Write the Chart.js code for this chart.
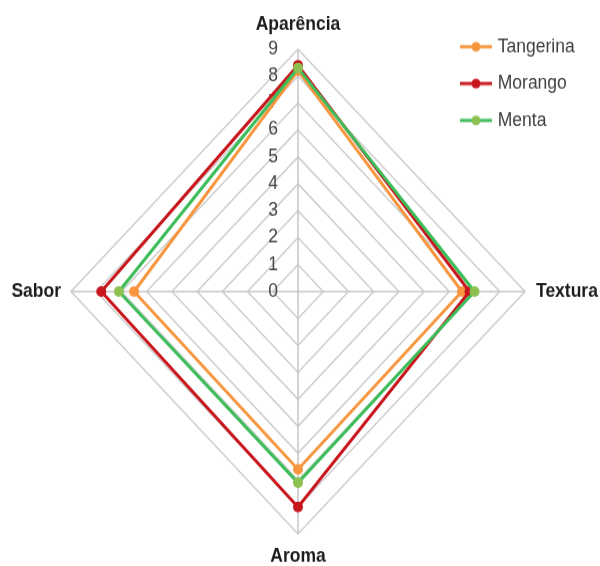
<!DOCTYPE html>
<html>
<head>
<meta charset="utf-8">
<script src="https://cdn.jsdelivr.net/npm/chart.js@4.4.1/dist/chart.umd.min.js"></script>
<style>
  html, body { margin: 0; padding: 0; background: #ffffff; }
  #radar { display: block; }
</style>
</head>
<body>
<canvas id="radar" width="600" height="530" style="width:600px;height:566px"></canvas>
<script>
// Sensory scores per attribute (0–9 scale)
const categories = ['Aparência', 'Textura', 'Aroma', 'Sabor'];
const seriesNames = ['Tangerina', 'Morango', 'Menta'];
const tangerina = [8.2, 6.5, 6.6, 6.5];
const morango   = [8.4, 6.8, 8.0, 7.8];
const menta     = [8.3, 7.0, 7.1, 7.1];
const tickValues = [0, 1, 2, 3, 4, 5, 6, 7, 8, 9];

const FONT = '"Liberation Sans", Arial, sans-serif';

// Legend swatch: short line with a dot in the middle
function lineIcon(lineColor, dotColor) {
  const c = document.createElement('canvas');
  c.width = 32; c.height = 12;
  const g = c.getContext('2d');
  g.strokeStyle = lineColor;
  g.lineWidth = 3;
  g.beginPath(); g.moveTo(0, 6); g.lineTo(32, 6); g.stroke();
  g.fillStyle = dotColor;
  g.beginPath(); g.arc(16, 6, 4.5, 0, Math.PI * 2); g.fill();
  return c;
}

const styles = [
  { line: '#f7963f', dot: '#f7963f' },
  { line: '#c8161d', dot: '#c8161d' },
  { line: '#3dbd5a', dot: '#8cc152' }
];
const legendIcons = styles.map(s => lineIcon(s.line, s.dot));

// Tick numbers to the left of the vertical axis, category names outside the apexes
const axisText = {
  id: 'axisText',
  beforeDatasetsDraw(chart) {
    const s = chart.scales.r;
    const ctx = chart.ctx;
    ctx.save();
    ctx.fillStyle = '#454545';
    ctx.font = '17.5px ' + FONT;
    ctx.textAlign = 'center';
    ctx.textBaseline = 'middle';
    tickValues.forEach(v => {
      ctx.fillText(String(v), s.xCenter - 25, s.yCenter - s.getDistanceFromCenterForValue(v));
    });
    ctx.restore();
  },
  afterDraw(chart) {
    const s = chart.scales.r;
    const ctx = chart.ctx;
    ctx.save();
    ctx.fillStyle = '#1c1c1c';
    ctx.font = 'bold 17.5px ' + FONT;
    ctx.textBaseline = 'middle';
    const gaps = [23, 11, 21, 10];
    const aligns = ['center', 'left', 'center', 'right'];
    categories.forEach((name, i) => {
      const p = s.getPointPosition(i, s.drawingArea + gaps[i]);
      ctx.textAlign = aligns[i];
      ctx.fillText(name, p.x, p.y);
    });
    ctx.restore();
  }
};

// Keep the legend in the upper-right corner, over the plot area
const legendPlace = {
  id: 'legendPlace',
  afterLayout(chart) {
    const lg = chart.legend;
    const w = lg.width, h = lg.height;
    lg.left = 446; lg.top = 18;
    lg.right = lg.left + w; lg.bottom = lg.top + h;
  }
};

const seriesValues = [tangerina, morango, menta];
const datasets = seriesNames.map((name, i) => ({
  label: name,
  data: seriesValues[i],
  borderColor: styles[i].line,
  backgroundColor: styles[i].line,
  pointBackgroundColor: styles[i].dot,
  pointBorderColor: styles[i].dot,
  pointRadius: 5,
  pointBorderWidth: 0,
  borderWidth: 3,
  fill: false,
  clip: false,
  order: seriesNames.length - 1 - i
}));

new Chart(document.getElementById('radar'), {
  type: 'radar',
  data: { labels: categories, datasets },
  options: {
    responsive: false,
    animation: false,
    devicePixelRatio: 1,
    layout: { padding: { left: 70, right: 74, top: 46, bottom: 29 } },
    scales: {
      r: {
        min: 0,
        max: 9,
        ticks: { display: false, stepSize: 1 },
        pointLabels: { display: false },
        grid: { color: '#cdcdcd', lineWidth: 1.5 },
        angleLines: { color: '#c6c6c6', lineWidth: 1.5 }
      }
    },
    plugins: {
      tooltip: { enabled: false },
      legend: {
        position: 'chartArea',
        align: 'start',
        labels: {
          usePointStyle: true,
          pointStyleWidth: 26,
          padding: 17,
          color: '#404040',
          font: { family: FONT, size: 17.5 },
          generateLabels(chart) {
            const items = Chart.defaults.plugins.legend.labels.generateLabels(chart);
            items.forEach(it => { it.pointStyle = legendIcons[it.datasetIndex]; });
            return items;
          },
          sort: (a, b) => a.datasetIndex - b.datasetIndex
        }
      }
    }
  },
  plugins: [axisText, legendPlace]
});
</script>
</body>
</html>
